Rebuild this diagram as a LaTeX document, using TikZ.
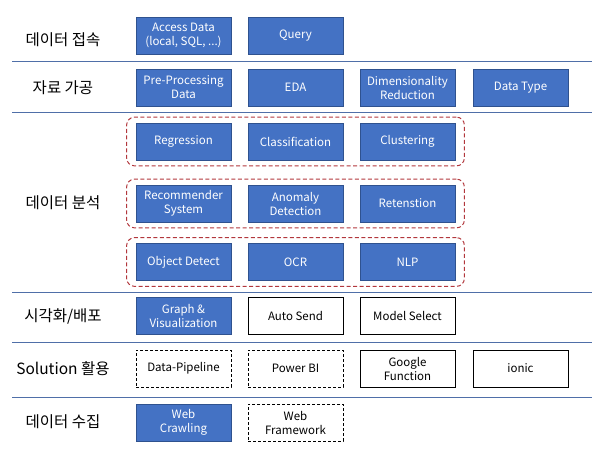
\documentclass[tikz,border=0pt]{standalone}
\usepackage{fontspec}
\setmainfont{Noto Sans CJK KR}
\usetikzlibrary{fit, positioning}
\usepackage{xcolor}
\definecolor{BoxBlue}{HTML}{4472C4}
\definecolor{BoxEdge}{HTML}{2F528F}
\definecolor{RuleBlue}{HTML}{4F6FA8}
\definecolor{GroupRed}{HTML}{B2373C}
\newcommand{\boxfont}{\fontsize{11.5}{14}\selectfont}
\newcommand{\layerfont}{\fontsize{15.5}{18}\selectfont}
\tikzset{
    % Box styles - all sharp corners
    method/.style={
        rectangle,
        draw=BoxEdge,
        fill=BoxBlue,
        text=white,
        line width=0.8pt,
        minimum width=95,
        minimum height=37,
        inner sep=1pt,
        align=center,
        font=\boxfont
    },
    tool/.style={
        method,
        draw=black,
        fill=white,
        text=black,
        line width=1pt
    },
    planned/.style={
        tool,
        dash pattern=on 3pt off 2pt
    },
    % Dashed frame round a group of methods
    group/.style={
        rectangle,
        rounded corners=8pt,
        draw=GroupRed,
        line width=1pt,
        dash pattern=on 4pt off 2.5pt,
        inner xsep=9,
        inner ysep=5.5
    },
    layer/.style={
        font=\layerfont
    },
    divider/.style={
        draw=RuleBlue,
        line width=1pt
    }
}
\begin{document}
\begin{tikzpicture}[x=1pt, y=-1pt]
    \useasboundingbox (0,0) rectangle (609,450);

    % Dividers between layers
    \foreach \y in {61,112,292,342,397} {
        \draw[divider] (12,\y) -- (592,\y);
    }

    % 데이터 접속
    \node[layer] (connect) at (63,40) {데이터 접속};
    \node[method] (accessdata) at (183.5,35.5) {Access Data\\(local, SQL, ...)};
    \node[method] (query) at (295.5,35.5) {Query};

    % 자료 가공
    \node[layer] (prepare) at (63,88) {자료 가공};
    \node[method] (preproc) at (183.5,87.5) {Pre-Processing\\Data};
    \node[method] (eda) at (295.5,87.5) {EDA};
    \node[method] (dimred) at (407.5,87.5) {Dimensionality\\Reduction};
    \node[method] (datatype) at (520.5,87.5) {Data Type};

    % 데이터 분석
    \node[layer] (analysis) at (63,203) {데이터 분석};
    \node[method] (regression) at (183.5,141.5) {Regression};
    \node[method] (classification) at (295.5,141.5) {Classification};
    \node[method] (clustering) at (407.5,141.5) {Clustering};
    \node[method] (recommender) at (183.5,203.5) {Recommender\\System};
    \node[method] (anomaly) at (295.5,203.5) {Anomaly\\Detection};
    \node[method] (retention) at (407.5,203.5) {Retenstion};
    \node[method] (objdetect) at (183.5,262) {Object Detect};
    \node[method] (ocr) at (295.5,262) {OCR};
    \node[method] (nlp) at (407.5,262) {NLP};
    \node[group, fit=(regression)(clustering)] (learn) {};
    \node[group, fit=(recommender)(retention)] (service) {};
    \node[group, fit=(objdetect)(nlp)] (deep) {};

    % 시각화/배포
    \node[layer] (deploy) at (63,316) {시각화/배포};
    \node[method] (graph) at (183.5,315.5) {Graph \&\\Visualization};
    \node[tool] (autosend) at (295.5,315.5) {Auto Send};
    \node[tool] (modelselect) at (407.5,315.5) {Model Select};

    % Solution 활용
    \node[layer] (solution) at (63,369) {Solution 활용};
    \node[planned] (pipeline) at (183.5,368.5) {Data-Pipeline};
    \node[planned] (powerbi) at (295.5,368.5) {Power BI};
    \node[tool] (gfunction) at (407.5,368.5) {Google\\Function};
    \node[tool] (ionic) at (520.5,368.5) {ionic};

    % 데이터 수집
    \node[layer] (collect) at (63,422) {데이터 수집};
    \node[method] (crawling) at (183.5,422.5) {Web\\Crawling};
    \node[planned] (webfw) at (295.5,422.5) {Web\\Framework};
\end{tikzpicture}
\end{document}
